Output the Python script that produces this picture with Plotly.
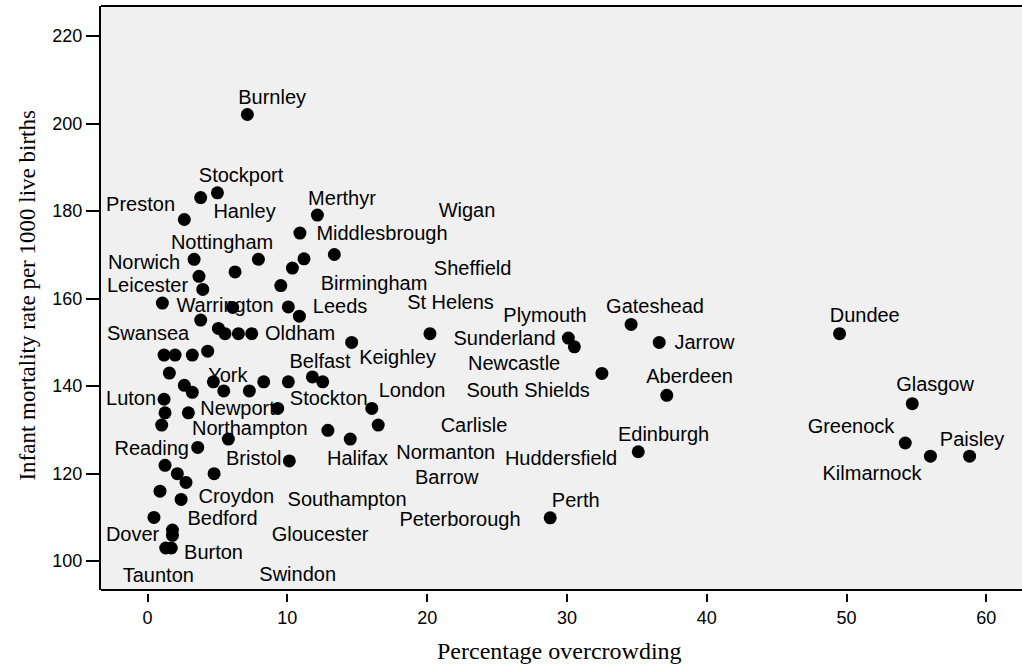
import plotly.graph_objects as go

# Point data: percentage overcrowding (x) vs infant mortality rate (y)
pt_x = [7.14, 3.8, 5.0, 2.63, 12.15, 10.9, 3.33, 7.93, 11.19, 13.36,
        6.26, 10.36, 3.68, 9.53, 3.95, 1.06, 6.09, 10.07, 10.86, 3.8,
        5.07, 5.54, 6.5, 7.45, 14.6, 1.18, 1.97, 3.2, 4.3, 1.56,
        2.63, 3.2, 4.71, 5.45, 7.28, 8.31, 10.07, 11.79, 12.53, 1.18,
        1.25, 2.92, 9.31, 16.04, 1.01, 16.5, 12.9, 14.5, 5.78, 3.59,
        10.14, 1.25, 2.13, 4.76, 2.75, 0.89, 2.4, 0.46, 1.78, 1.78,
        1.3, 1.7, 20.2, 30.1, 30.53, 34.59, 36.6, 32.5, 37.14, 35.1,
        28.8, 49.5, 54.7, 54.2, 56.0, 58.8]
pt_y = [202.1, 183.1, 184.2, 178.1, 179.1, 175.0, 169.0, 169.0, 169.1, 170.1,
        166.1, 167.0, 165.1, 163.0, 162.1, 159.0, 158.0, 158.1, 156.0, 155.1,
        153.2, 152.0, 152.0, 152.0, 150.0, 147.1, 147.1, 147.1, 148.0, 143.0,
        140.2, 138.6, 141.0, 138.9, 138.9, 141.0, 141.0, 142.1, 141.0, 137.0,
        133.9, 133.9, 134.9, 134.9, 131.1, 131.1, 129.9, 127.9, 127.9, 126.0,
        122.9, 121.9, 120.0, 120.0, 118.0, 116.0, 114.1, 110.0, 107.1, 105.9,
        103.0, 103.0, 152.0, 151.0, 149.0, 154.1, 150.0, 142.9, 137.9, 125.0,
        109.9, 152.0, 136.0, 127.0, 124.0, 124.0]

# Town labels and where they sit (data coordinates)
town_names = ["Burnley", "Stockport", "Preston", "Hanley", "Merthyr", "Wigan",
              "Nottingham", "Middlesbrough", "Norwich", "Sheffield", "Birmingham",
              "Leicester", "Warrington", "Leeds", "St Helens", "Plymouth",
              "Gateshead", "Dundee", "Swansea", "Oldham", "Sunderland", "Jarrow",
              "Keighley", "Belfast", "Newcastle", "York", "Aberdeen", "Luton",
              "London", "South Shields", "Glasgow", "Stockton", "Newport",
              "Northampton", "Carlisle", "Greenock", "Edinburgh", "Paisley",
              "Reading", "Bristol", "Halifax", "Normanton", "Huddersfield",
              "Kilmarnock", "Barrow", "Croydon", "Southampton", "Perth",
              "Bedford", "Peterborough", "Dover", "Gloucester", "Burton",
              "Taunton", "Swindon"]
town_x = [8.91, 6.69, -0.50, 6.94, 13.91, 22.85, 5.33, 16.77, -0.25, 23.25, 16.20,
          0.0, 5.54, 13.77, 21.67, 28.43, 36.30, 51.30, 0.04, 10.91, 25.54, 39.84,
          17.88, 12.34, 26.22, 5.74, 38.77, -1.18, 18.92, 27.22, 56.33, 12.96, 6.44,
          7.31, 23.35, 50.32, 36.91, 58.98, 0.30, 7.60, 15.02, 21.33, 29.58,
          51.82, 21.40, 6.35, 14.27, 30.63, 5.36, 22.35, -1.07, 12.34, 4.72,
          0.77, 10.74]
town_y = [205.6, 187.8, 181.1, 179.5, 182.5, 179.9, 172.6, 174.5, 167.9, 166.5, 163.1,
          162.6, 158.1, 157.8, 158.7, 155.8, 157.8, 155.7, 151.7, 151.7, 150.5, 149.6,
          146.2, 145.2, 144.8, 142.1, 141.8, 136.8, 138.6, 138.6, 140.0, 136.8, 134.5,
          129.9, 130.7, 130.5, 128.6, 127.5, 125.5, 123.2, 123.1, 124.4, 123.1,
          119.7, 118.7, 114.5, 113.7, 113.6, 109.4, 109.1, 105.7, 105.7, 101.6,
          96.4, 96.6]

x_ticks = [0, 10, 20, 30, 40, 50, 60]
y_ticks = [100, 120, 140, 160, 180, 200, 220]

x_title = "Percentage overcrowding"
y_title = "Infant mortality rate per 1000 live births"

fig = go.Figure()
fig.add_trace(go.Scatter(
    x=pt_x, y=pt_y, mode="markers",
    marker=dict(size=13, color="black", line=dict(width=0)),
    hoverinfo="skip", showlegend=False))
fig.add_trace(go.Scatter(
    x=town_x, y=town_y, mode="text", text=town_names,
    textposition="middle center",
    textfont=dict(family="Liberation Sans", size=20, color="black"),
    hoverinfo="skip", showlegend=False))

fig.update_layout(
    width=1022, height=666,
    margin=dict(l=101, r=0, t=6, b=73),
    paper_bgcolor="white",
    plot_bgcolor="#f0f0f0",
    font=dict(family="Liberation Sans", color="black"),
    xaxis=dict(range=[-3.33, 62.55], tickvals=x_ticks, ticks="outside",
               ticklen=8, tickwidth=2, tickcolor="black", showgrid=False,
               zeroline=False, showline=False, anchor="free", position=0,
               tickfont=dict(family="Liberation Sans", size=18, color="black")),
    yaxis=dict(range=[93.4, 226.9], tickvals=y_ticks, ticks="outside",
               ticklen=13, tickwidth=2, tickcolor="black", showgrid=False,
               zeroline=False, showline=True, linewidth=2, linecolor="black",
               domain=[0.0051, 1],
               tickfont=dict(family="Liberation Sans", size=18, color="black")),
    shapes=[
        dict(type="line", xref="x domain", yref="y domain", x0=0, x1=1, y0=1, y1=1,
             line=dict(color="black", width=2)),
        dict(type="line", xref="x domain", yref="y domain", x0=0, x1=1, y0=0, y1=0,
             line=dict(color="black", width=2)),
    ],
    annotations=[
        dict(text=x_title, xref="paper", yref="paper", x=0.498, y=-0.0988,
             xanchor="center", yanchor="middle", showarrow=False,
             font=dict(family="Liberation Serif", size=24, color="black")),
        dict(text=y_title, xref="paper", yref="paper", x=-0.0803, y=0.5068,
             xanchor="center", yanchor="middle", showarrow=False, textangle=-90,
             font=dict(family="Liberation Serif", size=23, color="black")),
    ],
)

fig.write_html(
    "out.html",
    config={"displayModeBar": False},
    post_script="document.body.style.margin='0';document.body.style.overflow='hidden';",
)
